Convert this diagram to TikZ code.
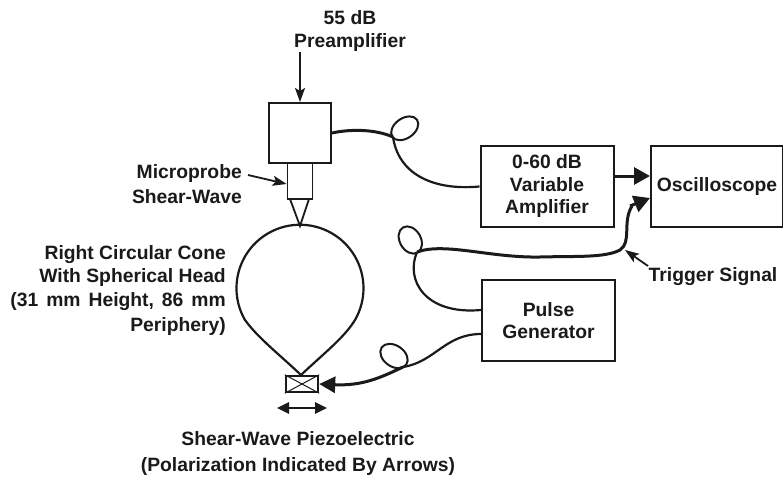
\documentclass[tikz,border=0pt]{standalone}
\usepackage{fontspec}
\setmainfont{Liberation Sans}
\usetikzlibrary{arrows.meta,shapes.geometric}
\definecolor{ink}{HTML}{1A1A1A}
\tikzset{
  lbl/.style={font=\fontsize{19.3}{22.5}\selectfont\bfseries, text=ink, align=center, inner sep=0pt},
  unit/.style={draw=ink, line width=2pt, minimum width=133pt, minimum height=81pt, lbl},
  loopmark/.style={draw=ink, ellipse, line width=2pt, inner sep=0pt},
  wire/.style={draw=ink, line width=2.2pt},
  thick wire/.style={draw=ink, line width=3pt},
  pointer/.style={draw=ink, line width=1.8pt, -{Stealth[length=14pt,width=10pt,inset=3pt]}},
  bigtip/.style={draw=ink, line width=3pt, -{Triangle[length=16pt,width=17pt]}}
}
\begin{document}
\begin{tikzpicture}[x=1pt, y=-1pt, node distance=48pt]
\useasboundingbox (0,0) rectangle (783,479);
\node(Preamp)   [draw=ink, line width=2pt, minimum width=62pt, minimum height=60pt] at (300,133) {};
\node(Probe)    [draw=ink, line width=1.8pt, minimum width=25pt, minimum height=36pt, below of=Preamp] {};
\node(Amp)      [unit] at (547,186.5) {0-60 dB\\Variable\\Amplifier};
\node(Scope)    [unit, minimum width=132pt] at (717,186.5) {Oscilloscope};
\node(Pulse)    [unit] at (548.5,320.5) {Pulse\\Generator};
\node(Piezo)    [draw=ink, line width=2.4pt, minimum width=32pt, minimum height=16pt] at (302,384) {};
\draw[ink, line width=1pt] (Piezo.north west) -- (Piezo.south east);
\draw[ink, line width=1pt] (Piezo.south west) -- (Piezo.north east);

\node(PreampLbl)[lbl] at (350,31) {55 dB\\Preamplifier};
\node(ProbeLbl) [lbl, align=right, anchor=east] at (242,184) {Microprobe\\[2pt]Shear-Wave};
\node(ConeLbl)  [lbl, align=right, anchor=east] at (226,291) {Right Circular Cone\\[.5pt]With Spherical Head\\[1.5pt]{\spaceskip=8pt (31 mm Height, 86 mm}\\[2.5pt]Periphery)};
\node(PiezoLbl) [lbl] at (298,453.5) {Shear-Wave Piezoelectric\\[4pt](Polarization Indicated By Arrows)};
\node(TrigLbl)  [lbl] at (713,277) {Trigger Signal};

\coordinate(PreampIn)   at (300,52);
\coordinate(ProbeFrom)  at (248,175);
\coordinate(TrigFrom)   at (648,266);
\coordinate(TrigTo)     at (625,250);
\coordinate(Apex)       at (300,226);
\coordinate(ConeTip)    at (301,375);
\coordinate(ConeLeft)   at (245,320);
\coordinate(ArrowL)     at (277,408);
\coordinate(ArrowR)     at (327,408);

\node(LoopA)    [loopmark, minimum width=30pt, minimum height=20pt, rotate=35]  at (404.7,128.3) {};
\node(LoopB)    [loopmark, minimum width=29pt, minimum height=21pt, rotate=-60] at (410.3,240) {};
\node(LoopC)    [loopmark, minimum width=30pt, minimum height=21pt, rotate=-35] at (394,356) {};
\coordinate(FootA)      at (393,137);
\coordinate(FootB)      at (417,252);
\coordinate(FootC)      at (403,367);

\draw[pointer](PreampIn)    -- (Preamp.north);
\draw[pointer](ProbeFrom)   -- (Probe.west |- 0,184);
\draw[pointer](TrigFrom)    -- (TrigTo);

\draw[ink, line width=1.8pt] (290,199) -- (Apex) -- (309,199);
\draw[ink, line width=2.2pt] (ConeTip) .. controls (280,355) and (258,338) .. (ConeLeft)
  arc[start angle=150, end angle=390, radius=63.5] .. controls (344,338) and (322,355) .. (ConeTip);

\draw[thick wire](Preamp.east) .. controls (350,129) and (375,129) .. (FootA);
\draw[wire](FootA) .. controls (398,172) and (430,191) .. (Amp.west);
\draw[wire](FootB) .. controls (405,280) and (425,315) .. (Pulse.west |- 0,310);
\draw[thick wire](FootB) .. controls (445,242) and (490,258) .. (540,257)
  .. controls (575,256) and (605,258) .. (620,250) .. controls (632,242) and (622,222) .. (632,206);
\draw[bigtip](630,206) -- (Scope.west |- 0,198);
\draw[bigtip](Amp.east |- 0,176) -- (Scope.west |- 0,176);
\draw[wire](Pulse.west |- 0,334) .. controls (445,334) and (435,362) .. (FootC);
\draw[thick wire, -{Triangle[length=16pt,width=16pt]}](FootC) .. controls (380,378) and (362,386) .. (Piezo.east);
\draw[draw=ink, line width=2.6pt, {Triangle[length=12pt,width=11pt]}-{Triangle[length=12pt,width=11pt]}](ArrowL) -- (ArrowR);
\end{tikzpicture}
\end{document}
